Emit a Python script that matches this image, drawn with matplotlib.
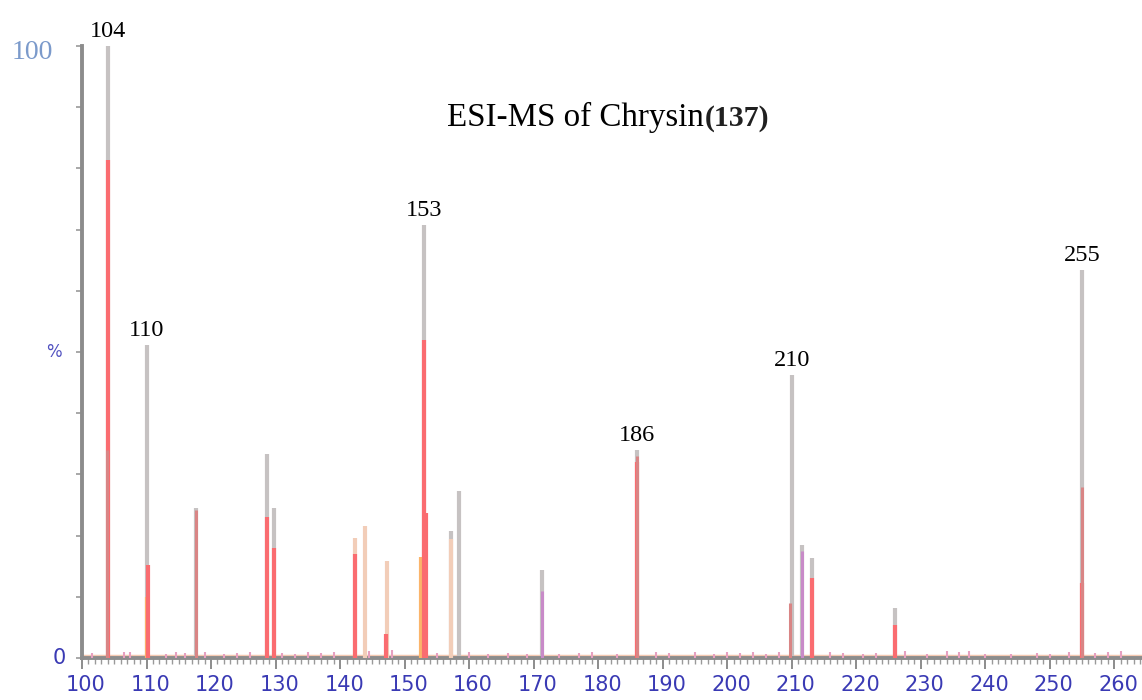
import matplotlib
matplotlib.use("Agg")
import matplotlib.pyplot as plt
import matplotlib.transforms as mtransforms
from matplotlib.ticker import MultipleLocator

# ---- spectrum data (m/z, relative intensity %) ----
# outer envelope of each peak (grey trace)
grey_mz = [104, 110, 117.7, 128.7, 129.8, 153, 157.2, 158.4, 171.3, 186, 210, 211.6, 213.2, 226, 255]
grey_int = [100, 51.1, 24.5, 33.3, 24.5, 70.8, 20.8, 27.3, 14.4, 34.0, 46.2, 18.5, 16.3, 8.2, 63.4]

# peach trace
peach_mz = [142.3, 143.9, 147.3, 157.2]
peach_int = [19.6, 21.6, 15.8, 19.5]

# orange trace
orange_mz = [110, 152.6]
orange_int = [10.0, 16.5]

# red trace
red_mz = [104, 110.2, 128.6, 129.7, 142.3, 147.1, 153, 153.35, 186, 213.2, 226, 255]
red_int = [81.4, 15.2, 23.0, 18.0, 17.0, 4.0, 52.0, 23.7, 32.0, 13.0, 5.4, 12.3]

# brownish-red trace
brown_mz = [103.8, 117.7, 186, 209.8, 255]
brown_int = [34.0, 24.2, 33.0, 9.0, 28.0]

# violet trace
violet_mz = [171.3, 211.6]
violet_int = [11.0, 17.5]

# small background ions along the baseline
noise_mz = [101.5, 106.5, 107.5, 113, 114.5, 116, 119, 122, 124, 126, 131, 133, 135, 137, 139,
            144.5, 148, 155, 160, 163, 166, 169, 174, 177, 179, 183, 189, 191, 195, 198, 200,
            202, 204, 206, 208, 216, 218, 221, 223, 227.5, 231, 234, 236, 237.5, 240, 244,
            248, 250, 253, 257, 259, 261]
noise_int = [0.8, 1.0, 0.9, 0.7, 1.0, 0.8, 0.9, 0.7, 0.8, 0.9, 0.8, 0.7, 0.9, 0.8, 1.0,
             1.2, 1.3, 0.8, 0.9, 0.6, 0.8, 0.7, 0.6, 0.8, 0.9, 0.7, 0.9, 0.8, 1.0, 0.7, 0.9,
             0.8, 0.9, 0.7, 1.0, 0.9, 0.8, 0.7, 0.8, 1.1, 0.6, 1.2, 1.0, 1.1, 0.7, 0.6,
             0.8, 0.7, 0.9, 0.8, 1.0, 1.1]

peak_labels = ["104", "110", "153", "186", "210", "255"]
label_mz = [104, 110, 153, 186, 210, 255]
label_int = [100, 51.1, 70.8, 34.0, 46.2, 63.4]

title_main = "ESI-MS of Chrysin"
title_cmpd = "(137)"

W, H = 1142, 700
fig = plt.figure(figsize=(W / 100, H / 100), dpi=100)
ax = fig.add_axes([82 / W, 42 / H, 1 - 82 / W, (658 - 42) / H])
ax.set_xlim(100, 264.3)
ax.set_ylim(0, 100 * (658 - 42) / (658 - 46))

def stems(xs, ys, color, lw=3.0, z=2):
    ax.vlines(xs, 0, ys, colors=color, linewidth=lw, zorder=z)

stems(grey_mz, grey_int, "#c6c2c2", z=2)
stems(peach_mz, peach_int, "#f2cdb8", z=3)
stems(orange_mz, orange_int, "#fbb46a", z=4)
stems(red_mz, red_int, "#fa6c70", z=5)
stems(brown_mz, brown_int, "#d98585", z=6, lw=2.2)
stems(violet_mz, violet_int, "#c88ac8", z=7, lw=2.2)
stems(noise_mz, noise_int, "#e7a0c0", lw=1.5, z=3)

# baseline band
ax.axhline(0.35, color="#f5c9b2", linewidth=2.5, zorder=1)

serif = ["Liberation Serif", "DejaVu Serif"]
for lab, x, y in zip(peak_labels, label_mz, label_int):
    ax.annotate(lab, (x, y), xytext=(0, 3), textcoords="offset points",
                ha="center", va="bottom", fontsize=17.5, family=serif,
                color="black", clip_on=False)

t1 = fig.text(447 / W, 1 - 117 / H, title_main, fontsize=23.8, family=serif,
              ha="left", va="center", color="black")
fig.canvas.draw()
bb = t1.get_window_extent()
fig.text(bb.x1 / fig.bbox.width + 0.001, 1 - 118 / H, title_cmpd, fontsize=21.5,
         family=serif, fontweight="bold", ha="left", va="center", color="#202020")

# axes styling
for side in ["top", "right"]:
    ax.spines[side].set_visible(False)
for side in ["left", "bottom"]:
    ax.spines[side].set_color("#8c8c8c")
    ax.spines[side].set_linewidth(2.8)
ax.spines["left"].set_bounds(0, 100)

ax.set_xticks(range(100, 261, 10))
ax.xaxis.set_minor_locator(MultipleLocator(1))
ax.tick_params(axis="x", which="major", length=8, width=1.4, color="#8c8c8c",
               labelsize=15, labelcolor="#3a3ab4", pad=4)
ax.tick_params(axis="x", which="minor", length=4, width=1.0, color="#9a9a9a")
shift = mtransforms.ScaledTranslation(4 / 100, 0, fig.dpi_scale_trans)
for lbl in ax.get_xticklabels():
    lbl.set_transform(lbl.get_transform() + shift)

ax.set_yticks(range(0, 101, 10))
ax.tick_params(axis="y", which="major", length=4, width=1.2, color="#9a9a9a",
               labelleft=False)

# y-axis annotations
ytr = ax.get_yaxis_transform()
ax.text(-0.027, 99, "100", transform=ytr, ha="right", va="center",
        fontsize=20, family=serif, color="#7b9acb")
ax.text(-0.019, 50, "%", transform=ytr, ha="right", va="center",
        fontsize=12, color="#5050c0")
ax.text(-0.015, 0, "0", transform=ytr, ha="right", va="center",
        fontsize=15, color="#3a3ab4")

fig.savefig("out.png", dpi=100)
